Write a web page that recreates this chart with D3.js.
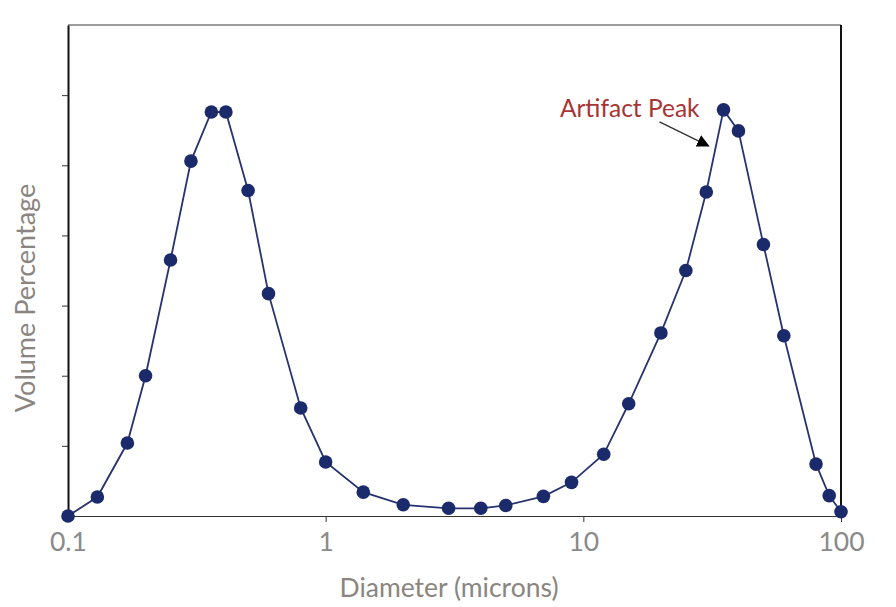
<!DOCTYPE html>
<html>
<head>
<meta charset="utf-8">
<script src="https://cdn.jsdelivr.net/npm/d3@7"></script>
<style>
  html, body { margin: 0; padding: 0; background: #fff; }
  svg { display: block; }
</style>
</head>
<body>
<svg id="chart" width="896" height="607"></svg>
<script>
const diameters = [0.1, 0.13, 0.17, 0.2, 0.25, 0.3, 0.36, 0.41, 0.5, 0.6, 0.8, 1.0, 1.4, 2, 3, 4, 5, 7, 9, 12, 15, 20, 25, 30, 35, 40, 50, 60, 80, 90, 100];
const volumePct = [0, 0.27, 1.04, 2.0, 3.65, 5.06, 5.76, 5.76, 4.64, 3.17, 1.54, 0.77, 0.34, 0.16, 0.11, 0.11, 0.15, 0.28, 0.48, 0.88, 1.60, 2.61, 3.50, 4.62, 5.79, 5.49, 3.87, 2.57, 0.74, 0.29, 0.06];
const xTickValues = [0.1, 1, 10, 100];
const xTickLabels = ["0.1", "1", "10", "100"];
const yTickValues = [1, 2, 3, 4, 5, 6];
const annotationText = "Artifact Peak";
const xLabel = "Diameter (microns)";
const yLabel = "Volume Percentage";

const W = 896, H = 607;
const margin = { top: 25, right: 55, bottom: 91, left: 68 };
const iw = W - margin.left - margin.right;
const ih = H - margin.top - margin.bottom;

const svg = d3.select("#chart");
const g = svg.append("g").attr("transform", `translate(${margin.left},${margin.top})`);

const x = d3.scaleLog().domain([0.1, 100]).range([0, iw]);
const y = d3.scaleLinear().domain([0, 7]).range([ih, 0]);

const font = "Lato, 'Open Sans', sans-serif";

// frame: top (gray) line
g.append("line").attr("x1", 0).attr("x2", iw).attr("y1", 0).attr("y2", 0)
  .attr("stroke", "#7a7a7a").attr("stroke-width", 1.5);

// x axis
const xAxis = g.append("g").attr("transform", `translate(0,${ih})`)
  .call(d3.axisBottom(x).tickValues(xTickValues).tickFormat((d, i) => xTickLabels[i]).tickSize(6).tickSizeOuter(0));
xAxis.select(".domain").attr("stroke", "#333").attr("stroke-width", 1.2);
xAxis.selectAll(".tick line").attr("stroke", "#333").attr("stroke-width", 1);
xAxis.selectAll(".tick text")
  .attr("font-family", font).attr("font-size", 26.5).attr("fill", "#8a8a8a")
  .attr("dy", 0).attr("y", 35);

// y axis (no labels)
const yAxis = g.append("g")
  .call(d3.axisLeft(y).tickValues(yTickValues).tickFormat("").tickSize(6).tickSizeOuter(0));
yAxis.select(".domain").attr("stroke", "#111").attr("stroke-width", 2);
yAxis.selectAll(".tick line").attr("stroke", "#333").attr("stroke-width", 1);

// right frame line
g.append("line").attr("x1", iw).attr("x2", iw).attr("y1", 0).attr("y2", ih)
  .attr("stroke", "#111").attr("stroke-width", 2);

// axis titles
svg.append("text")
  .attr("x", 449).attr("y", 597)
  .attr("text-anchor", "middle")
  .attr("font-family", font).attr("font-size", 26.5).attr("fill", "#8a8580")
  .text(xLabel);

svg.append("text")
  .attr("transform", `translate(35,298) rotate(-90)`)
  .attr("text-anchor", "middle")
  .attr("font-family", font).attr("font-size", 27).attr("fill", "#8a8580")
  .text(yLabel);

// data
const data = diameters.map((d, i) => ({ d, v: volumePct[i] }));
const line = d3.line().x(p => x(p.d)).y(p => y(p.v));

g.append("path").datum(data)
  .attr("fill", "none").attr("stroke", "#27336f").attr("stroke-width", 1.8)
  .attr("d", line);

g.selectAll("circle.pt").data(data).enter().append("circle")
  .attr("class", "pt")
  .attr("cx", p => x(p.d)).attr("cy", p => y(p.v))
  .attr("r", 6.8).attr("fill", "#1b2a6b");

// annotation
const peakIdx = 24;
const px = x(diameters[peakIdx]), py = y(volumePct[peakIdx]);
svg.append("defs").append("marker")
  .attr("id", "arrow").attr("viewBox", "0 0 10 10")
  .attr("refX", 9).attr("refY", 5)
  .attr("markerWidth", 9).attr("markerHeight", 9)
  .attr("markerUnits", "strokeWidth")
  .attr("orient", "auto")
  .append("path").attr("d", "M0,0 L10,5 L0,10 Z").attr("fill", "#000");

g.append("text")
  .attr("x", px - 24).attr("y", py + 7)
  .attr("text-anchor", "end")
  .attr("font-family", font).attr("font-size", 24.5).attr("fill", "#a83434")
  .text(annotationText);

g.append("line")
  .attr("x1", px - 64).attr("y1", py + 12)
  .attr("x2", px - 15).attr("y2", py + 36)
  .attr("stroke", "#333").attr("stroke-width", 1.4)
  .attr("marker-end", "url(#arrow)");
</script>
</body>
</html>
